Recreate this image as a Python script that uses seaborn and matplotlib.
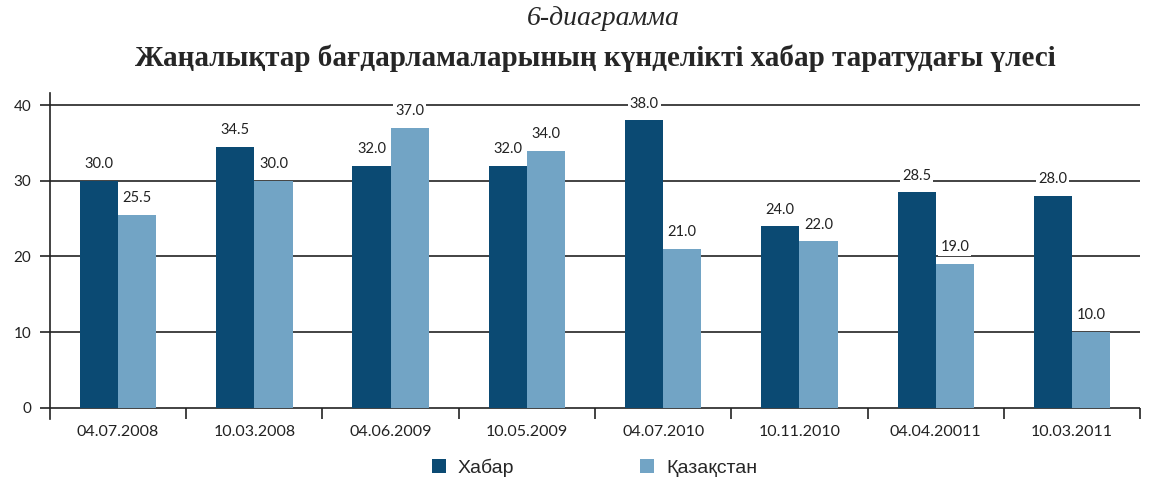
import pandas as pd
import seaborn as sns
from matplotlib import pyplot as plt

# chart data
dates = ["04.07.2008", "10.03.2008", "04.06.2009", "10.05.2009",
         "04.07.2010", "10.11.2010", "04.04.20011", "10.03.2011"]
khabar = [30.0, 34.5, 32.0, 32.0, 38.0, 24.0, 28.5, 28.0]
kazakhstan = [25.5, 30.0, 37.0, 34.0, 21.0, 22.0, 19.0, 10.0]
series = ["Хабар", "Қазақстан"]
colors = ["#0B4A73", "#72A4C5"]

df = pd.DataFrame({
    "date": dates * 2,
    "value": khabar + kazakhstan,
    "channel": [series[0]] * len(dates) + [series[1]] * len(dates),
})

sns.set_style("white")
plt.rcParams["font.family"] = ["Lato", "DejaVu Sans"]

fig = plt.figure(figsize=(11.49, 4.87), dpi=100)
ax = fig.add_axes([0.0435, 0.1396, 0.9487, 0.669])

sns.barplot(data=df, x="date", y="value", hue="channel", order=dates,
            hue_order=series, palette=colors, width=0.56, gap=0,
            saturation=1, linewidth=0, ax=ax, legend=True)

# value labels above bars (white box where they sit on a gridline)
for cont in ax.containers:
    ax.bar_label(cont, fmt="%.1f", padding=7, fontsize=10.5, color="#222222",
                 bbox=dict(facecolor="white", edgecolor="none", pad=1.5))

ax.set_xlim(-0.5, 7.5)
ax.set_ylim(-1.5, 41.6)
ax.set_yticks([0, 10, 20, 30, 40])
ax.yaxis.grid(True, color="#222222", linewidth=1.2)
ax.set_axisbelow(True)
ax.set_xlabel("")
ax.set_ylabel("")

for s in ["top", "right", "bottom"]:
    ax.spines[s].set_visible(False)
ax.spines["left"].set_color("#222222")
ax.spines["left"].set_linewidth(1.2)

# category separators as inward minor ticks
ax.set_xticks([i + 0.5 for i in range(len(dates))], minor=True)
ax.tick_params(axis="x", which="minor", direction="in", length=8,
               width=1.2, color="#222222", bottom=True)
ax.tick_params(axis="x", which="major", length=0, pad=4, labelsize=11.5,
               labelcolor="#222222")
ax.tick_params(axis="y", which="major", direction="out", length=7.5,
               width=1.2, color="#222222", left=True, labelsize=11,
               labelcolor="#222222", pad=6)

# legend at bottom
handles, labels = ax.get_legend_handles_labels()
ax.legend(handles, labels, loc="center", bbox_to_anchor=(0.4995, -0.15),
          ncol=2, frameon=False, handlelength=0.72, handleheight=0.72,
          handletextpad=0.6, columnspacing=6.5,
          prop={"family": "Liberation Sans", "size": 14})

# titles
fig.text(0.525, 0.963, "6-диаграмма", ha="center", va="center",
         family="Liberation Serif", style="italic", fontsize=20)
fig.text(0.518, 0.88,
         "Жаңалықтар бағдарламаларының күнделікті хабар таратудағы үлесі",
         ha="center", va="center", family="Liberation Serif",
         weight="bold", fontsize=21)

fig.savefig("out.png", dpi=100)
